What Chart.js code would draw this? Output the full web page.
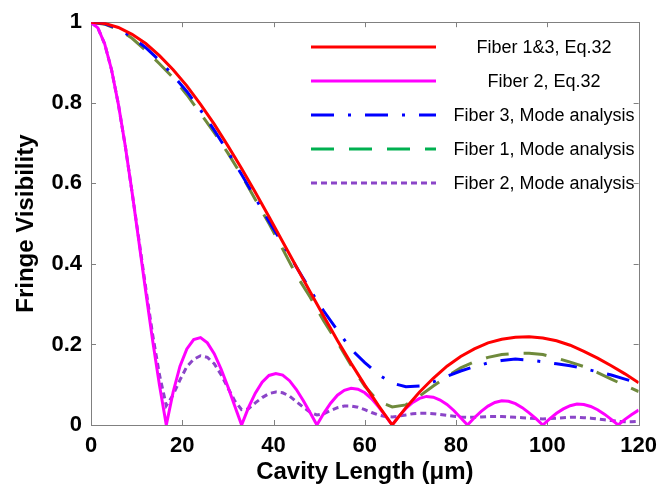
<!DOCTYPE html>
<html lang="en">

<head>
    <title>Fringe Visibility</title>
    <meta charset="utf-8">
    <script src="https://cdn.jsdelivr.net/npm/chart.js@4.4.1/dist/chart.umd.min.js"></script>
    <style>
        body { margin: 0; background: #fff; }
    </style>
</head>

<body>
    <canvas id="visChart" width="665" height="491"></canvas>
    <script type="text/javascript">
    // cavity lengths (um)
    var lenCoarse = [0, 3, 6, 9, 12, 15, 18, 21, 24, 27, 30, 33, 36, 39, 42, 45, 48, 51, 54, 57, 60,
        63, 66, 69, 72, 75, 78, 81, 84, 87, 90, 93, 96, 99, 102, 105, 108, 111, 114, 117, 120];
    var lenFine = [0, 1.5, 3, 4.5, 6, 7.5, 9, 10.5, 12, 13.5, 15, 16.5, 18, 19.5, 21, 22.5, 24, 25.5,
        27, 28.5, 30, 31.5, 33, 34.5, 36, 37.5, 39, 40.5, 42, 43.5, 45, 46.5, 48, 49.5, 51, 52.5, 54,
        55.5, 57, 58.5, 60, 61.5, 63, 64.5, 66, 67.5, 69, 70.5, 72, 73.5, 75, 76.5, 78, 79.5, 81, 82.5,
        84, 85.5, 87, 88.5, 90, 91.5, 93, 94.5, 96, 97.5, 99, 100.5, 102, 103.5, 105, 106.5, 108, 109.5,
        111, 112.5, 114, 115.5, 117, 118.5, 120];

    // Fiber 1&3, Eq.32 (on lenCoarse)
    var fiber13Eq = [1.000, 0.997, 0.987, 0.970, 0.947, 0.917, 0.882, 0.842, 0.796, 0.747, 0.693,
        0.637, 0.578, 0.517, 0.455, 0.393, 0.331, 0.270, 0.210, 0.153, 0.099, 0.048, 0.000, 0.043,
        0.082, 0.116, 0.146, 0.170, 0.189, 0.204, 0.213, 0.218, 0.219, 0.216, 0.209, 0.198, 0.183,
        0.166, 0.147, 0.127, 0.105];
    // Fiber 3, Mode analysis (on lenCoarse)
    var fiber3Mode = [1.000, 0.996, 0.984, 0.963, 0.937, 0.905, 0.868, 0.828, 0.782, 0.732, 0.678,
        0.622, 0.564, 0.505, 0.450, 0.392, 0.336, 0.283, 0.235, 0.188, 0.155, 0.125, 0.104, 0.095,
        0.097, 0.107, 0.121, 0.134, 0.145, 0.154, 0.160, 0.164, 0.161, 0.157, 0.152, 0.147, 0.140,
        0.132, 0.124, 0.114, 0.104];
    // Fiber 1, Mode analysis (on lenCoarse)
    var fiber1Mode = [1.000, 0.995, 0.982, 0.960, 0.930, 0.897, 0.862, 0.820, 0.773, 0.726, 0.675,
        0.620, 0.560, 0.500, 0.437, 0.372, 0.318, 0.258, 0.205, 0.148, 0.096, 0.058, 0.045, 0.050,
        0.072, 0.097, 0.120, 0.142, 0.157, 0.168, 0.175, 0.178, 0.178, 0.175, 0.166, 0.156, 0.145,
        0.130, 0.114, 0.098, 0.083];
    // Fiber 2, Eq.32 (on lenFine)
    var fiber2Eq = [1.000, 0.986, 0.946, 0.882, 0.796, 0.693, 0.578, 0.455, 0.331, 0.210, 0.099, 0.000,
        0.082, 0.146, 0.189, 0.212, 0.217, 0.204, 0.177, 0.139, 0.095, 0.047, 0.000,
        0.043, 0.079, 0.106, 0.123, 0.128, 0.124, 0.110, 0.088, 0.061, 0.031, 0.000,
        0.029, 0.054, 0.074, 0.086, 0.091, 0.089, 0.080, 0.065, 0.045, 0.023, 0.000,
        0.022, 0.041, 0.056, 0.066, 0.071, 0.069, 0.062, 0.051, 0.036, 0.018, 0.000,
        0.018, 0.034, 0.047, 0.056, 0.060, 0.059, 0.053, 0.043, 0.030, 0.016, 0.000,
        0.015, 0.029, 0.040, 0.048, 0.052, 0.051, 0.046, 0.038, 0.027, 0.014, 0.000,
        0.014, 0.026, 0.037];
    // Fiber 2, Mode analysis (on lenFine)
    var fiber2Mode = [1.000, 0.986, 0.946, 0.882, 0.796, 0.693, 0.578, 0.460, 0.340, 0.225, 0.125, 0.048,
        0.075, 0.112, 0.145, 0.163, 0.172, 0.168, 0.152, 0.125, 0.092, 0.060, 0.038,
        0.040, 0.055, 0.068, 0.078, 0.082, 0.080, 0.072, 0.058, 0.044, 0.032, 0.025,
        0.028, 0.036, 0.043, 0.047, 0.047, 0.044, 0.038, 0.031, 0.025, 0.021, 0.020,
        0.022, 0.025, 0.028, 0.029, 0.029, 0.028, 0.026, 0.024, 0.022, 0.020, 0.019,
        0.019, 0.020, 0.021, 0.021, 0.021, 0.020, 0.019, 0.018, 0.017, 0.016, 0.015,
        0.016, 0.017, 0.018, 0.019, 0.019, 0.018, 0.017, 0.015, 0.013, 0.011, 0.009,
        0.008, 0.008, 0.009];

    var xTicks = [0, 20, 40, 60, 80, 100, 120];
    var yTicks = [0, 0.2, 0.4, 0.6, 0.8, 1];
    var seriesNames = ["Fiber 1&3, Eq.32", "Fiber 2, Eq.32", "Fiber 3, Mode analysis",
        "Fiber 1, Mode analysis", "Fiber 2, Mode analysis"];
    var legendColors = ["#ff0000", "#ff00ff", "#0000ff", "#00b050", "#8b45c8"];

    function pts(xs, ys) {
        return xs.map(function(x, i) { return { x: x, y: ys[i] }; });
    }

    var FONT = '"Liberation Sans", Arial, sans-serif';

    // axes box with inward ticks
    var framePlugin = {
        id: "frame",
        beforeDatasetsDraw: function(chart) {
            var ctx = chart.ctx, a = chart.chartArea;
            var sx = chart.scales.x, sy = chart.scales.y;
            ctx.save();
            ctx.strokeStyle = "#808080";
            ctx.lineWidth = 1;
            ctx.strokeRect(Math.round(a.left) + 0.5, Math.round(a.top) + 0.5,
                Math.round(a.right - a.left), Math.round(a.bottom - a.top));
            ctx.beginPath();
            xTicks.forEach(function(v) {
                var px = Math.round(sx.getPixelForValue(v)) + 0.5;
                ctx.moveTo(px, a.bottom); ctx.lineTo(px, a.bottom - 5);
                ctx.moveTo(px, a.top); ctx.lineTo(px, a.top + 5);
            });
            yTicks.forEach(function(v) {
                var py = Math.round(sy.getPixelForValue(v)) + 0.5;
                ctx.moveTo(a.left, py); ctx.lineTo(a.left + 5, py);
                ctx.moveTo(a.right, py); ctx.lineTo(a.right - 5, py);
            });
            ctx.stroke();
            ctx.restore();
        }
    };

    // legend drawn inside the plot, text centred to the right of the sample line
    var legendPlugin = {
        id: "insideLegend",
        afterDatasetsDraw: function(chart) {
            var ctx = chart.ctx;
            chart.data.datasets.forEach(function(ds, i) {
                var yy = 47 + i * 34;
                ctx.save();
                ctx.strokeStyle = legendColors[i];
                ctx.lineWidth = 3;
                ctx.setLineDash(ds.borderDash || []);
                ctx.beginPath();
                ctx.moveTo(311, yy);
                ctx.lineTo(436, yy);
                ctx.stroke();
                ctx.setLineDash([]);
                ctx.fillStyle = "#000";
                ctx.font = "18px " + FONT;
                ctx.textAlign = "center";
                ctx.textBaseline = "middle";
                ctx.fillText(ds.label, 544, yy + 1);
                ctx.restore();
            });
        }
    };

    var ctx = document.getElementById("visChart").getContext("2d");
    var chart = new Chart(ctx, {
        type: "line",
        data: {
            datasets: [{
                label: seriesNames[0],
                data: pts(lenCoarse, fiber13Eq),
                borderColor: "#ff0000",
                borderWidth: 3
            }, {
                label: seriesNames[1],
                data: pts(lenFine, fiber2Eq),
                borderColor: "#ff00ff",
                borderWidth: 3
            }, {
                label: seriesNames[2],
                data: pts(lenCoarse, fiber3Mode),
                borderColor: "#0000ff",
                borderWidth: 3,
                borderDash: [23, 14, 3, 14]
            }, {
                label: seriesNames[3],
                data: pts(lenCoarse, fiber1Mode),
                borderColor: "#6f8a3c",
                borderWidth: 3,
                borderDash: [23, 15]
            }, {
                label: seriesNames[4],
                data: pts(lenFine, fiber2Mode),
                borderColor: "#8b45c8",
                borderWidth: 3,
                borderDash: [6, 4]
            }]
        },
        options: {
            responsive: false,
            animation: false,
            devicePixelRatio: 1,
            layout: { padding: { top: 18, right: 22, left: 0, bottom: 0 } },
            elements: {
                point: { radius: 0 },
                line: { tension: 0, fill: false }
            },
            plugins: {
                legend: { display: false },
                tooltip: { enabled: false }
            },
            scales: {
                x: {
                    type: "linear",
                    min: 0,
                    max: 120,
                    afterFit: function(s) { s.height = 66; },
                    afterBuildTicks: function(s) { s.ticks = xTicks.map(function(v) { return { value: v }; }); },
                    grid: { display: false, drawTicks: false },
                    border: { display: false },
                    ticks: {
                        padding: 8,
                        color: "#000",
                        font: { family: FONT, size: 22, weight: "bold" }
                    },
                    title: {
                        display: true,
                        text: "Cavity Length (\u03bcm)",
                        color: "#000",
                        padding: { top: 0, bottom: 4 },
                        font: { family: FONT, size: 24, weight: "bold" }
                    }
                },
                y: {
                    min: 0,
                    max: 1,
                    afterFit: function(s) { s.width = 91; },
                    afterBuildTicks: function(s) { s.ticks = yTicks.map(function(v) { return { value: v }; }); },
                    grid: { display: false, drawTicks: false },
                    border: { display: false },
                    ticks: {
                        padding: 9,
                        color: "#000",
                        font: { family: FONT, size: 22, weight: "bold" },
                        callback: function(v) { return String(Number(v.toFixed(2))); }
                    },
                    title: {
                        display: true,
                        text: "Fringe Visibility",
                        color: "#000",
                        padding: { top: 12, bottom: 0 },
                        font: { family: FONT, size: 24, weight: "bold" }
                    }
                }
            }
        },
        plugins: [framePlugin, legendPlugin]
    });
    </script>
</body>

</html>
